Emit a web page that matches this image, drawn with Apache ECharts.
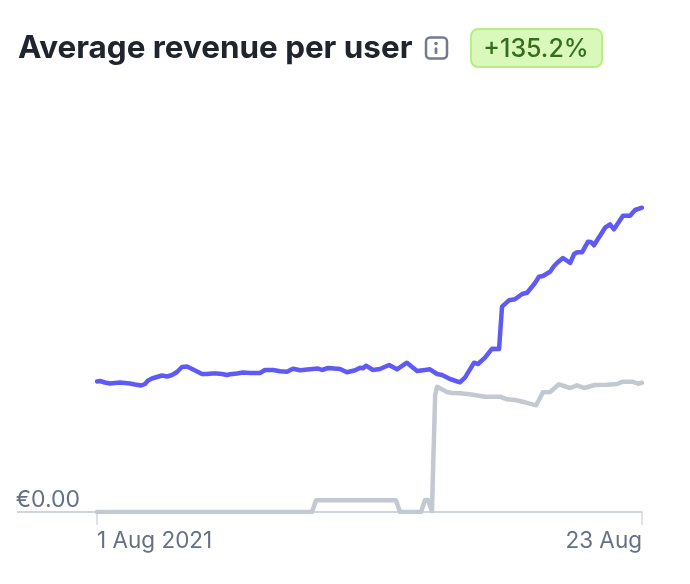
<!DOCTYPE html>
<html>
<head>
<meta charset="utf-8">
<style>
html, body { margin: 0; padding: 0; background: #fff; }
#chart { width: 690px; height: 584px; }
</style>
<script src="https://cdn.jsdelivr.net/npm/echarts@6/dist/echarts.min.js"></script>
</head>
<body>
<div id="chart"></div>
<script>
// x values are days since 1 Aug 2021
var blueDays = [0, .12, .32, .52, .73, .93, 1.13, 1.33, 1.53, 1.78, 1.94, 2.06, 2.22, 2.42, 2.62, 2.83, 3.03, 3.23, 3.43, 3.63, 3.84, 4.04, 4.24, 4.44, 4.64, 4.84, 5.05, 5.25,
    5.37, 5.65, 5.89, 6.18, 6.58, 6.78, 7.11, 7.39, 7.67, 7.91, 8.2, 8.6, 8.92, 9.08, 9.33, 9.81, 10.09, 10.42, 10.62, 10.74, 10.86, 11.14, 11.42, 11.79, 12.11, 12.51, 12.92, 13.24, 13.44, 13.73, 13.93, 14.25, 14.65,
    14.86, 15.22, 15.38, 15.66, 15.95, 16.23, 16.35, 16.63, 16.87, 17.16, 17.36, 17.56, 17.68, 17.84, 18, 18.29, 18.45, 18.61, 18.81, 19.1, 19.26, 19.38, 19.58, 19.82, 19.94, 20.06, 20.51, 20.71, 20.87, 21.23, 21.52, 21.72, 22];
var blueValues = [1.305, 1.31, 1.295, 1.285, 1.29, 1.295, 1.29, 1.285, 1.275, 1.265, 1.28, 1.315, 1.335, 1.35, 1.365, 1.355, 1.37, 1.40, 1.45, 1.455, 1.43, 1.405, 1.38, 1.38, 1.385, 1.385, 1.38, 1.37,
    1.377, 1.385, 1.395, 1.39, 1.39, 1.42, 1.42, 1.407, 1.403, 1.433, 1.417, 1.427, 1.435, 1.42, 1.44, 1.43, 1.397, 1.417, 1.443, 1.437, 1.463, 1.42, 1.43, 1.47, 1.427, 1.493, 1.41, 1.42, 1.427, 1.38, 1.37, 1.33, 1.297,
    1.347, 1.493, 1.48, 1.543, 1.633, 1.63, 2.053, 2.117, 2.127, 2.18, 2.193, 2.253, 2.29, 2.353, 2.36, 2.403, 2.46, 2.50, 2.54, 2.49, 2.58, 2.597, 2.597, 2.703, 2.70, 2.667, 2.843, 2.877, 2.827, 2.963, 2.963, 3.02, 3.043];

var grayDays = [0, 8.68, 8.84, 12.07, 12.23, 13.08, 13.24, 13.36, 13.52, 13.65, 13.73, 14.13, 14.33, 14.65, 15.05, 15.66, 16.27, 16.55, 16.87, 17.28, 17.72, 17.84, 18, 18.29, 18.65, 19.1, 19.38, 19.66, 20.1, 20.59, 20.99, 21.23, 21.6, 21.84, 22];
var grayValues = [0, 0, .117, .117, 0, 0, .12, .12, .01, 1.17, 1.253, 1.20, 1.19, 1.187, 1.177, 1.153, 1.153, 1.127, 1.12, 1.097, 1.067, 1.12, 1.197, 1.20, 1.277, 1.24, 1.267, 1.24, 1.27, 1.273, 1.28, 1.303, 1.303, 1.283, 1.293];

var blueLine = blueDays.map(function (d, i) { return [d, blueValues[i]]; });
var grayLine = grayDays.map(function (d, i) { return [d, grayValues[i]]; });

var myChart = echarts.init(document.getElementById('chart'));
var fontName = 'Inter';

var option = {
    animation: false,
    backgroundColor: '#fff',
    textStyle: { fontFamily: fontName },
    title: {
        text: 'Average revenue per user',
        left: 13,
        top: 28,
        textStyle: { fontFamily: fontName, fontSize: 31.4, fontWeight: 700, color: '#20242d' }
    },
    grid: { left: 97, right: 48, top: 112, bottom: 72 },
    xAxis: {
        type: 'value',
        min: 0,
        max: 22,
        interval: 22,
        splitLine: { show: false },
        axisLine: { show: true, onZero: false, lineStyle: { color: '#c1c6d0', width: 1.5 } },
        axisTick: { show: true, length: 13, lineStyle: { color: '#d3d7dd', width: 1.5 } },
        axisLabel: {
            color: '#667085',
            fontSize: 22.5,
            margin: 18,
            alignMinLabel: 'left',
            alignMaxLabel: 'right',
            hideOverlap: false,
            formatter: function (v) { return v === 0 ? '1 Aug 2021' : '23 Aug'; }
        }
    },
    yAxis: {
        type: 'value',
        min: 0,
        max: 4,
        interval: 4,
        offset: 3,
        splitLine: { show: false },
        axisLine: { show: false },
        axisTick: { show: true, length: 80, customValues: [0], lineStyle: { color: '#c1c6d0', width: 1.5 } },
        axisLabel: {
            color: '#667085',
            fontSize: 23,
            margin: 14,
            verticalAlign: 'bottom',
            customValues: [0],
            formatter: function () { return '€0.00'; }
        }
    },
    series: [{
        type: 'line',
        data: grayLine,
        showSymbol: false,
        lineStyle: { color: '#c3c8d1', width: 4.5, cap: 'round', join: 'round' },
        z: 3
    }, {
        type: 'line',
        data: blueLine,
        showSymbol: false,
        lineStyle: { color: '#5f5af6', width: 4.5, cap: 'round', join: 'round' },
        z: 4
    }],
    graphic: [
        // info icon
        { type: 'rect', shape: { x: 426, y: 37.5, width: 21, height: 21, r: 4 }, style: { fill: '#fff', stroke: '#737b8c', lineWidth: 2.5 } },
        { type: 'circle', shape: { cx: 436, cy: 43.5, r: 1.8 }, style: { fill: '#737b8c' } },
        { type: 'rect', shape: { x: 434.6, y: 47.5, width: 2.8, height: 6.5, r: 1 }, style: { fill: '#737b8c' } },
        // change badge
        { type: 'rect', shape: { x: 471, y: 29, width: 131, height: 38, r: 7 }, style: { fill: '#d9f9bb', stroke: '#b9ed85', lineWidth: 2 } },
        { type: 'text', x: 536, y: 49, style: { text: '+135.2%', fill: '#356d1e', font: '500 25px ' + fontName, textAlign: 'center', textVerticalAlign: 'middle' } }
    ]
};

myChart.setOption(option);
</script>
</body>
</html>
